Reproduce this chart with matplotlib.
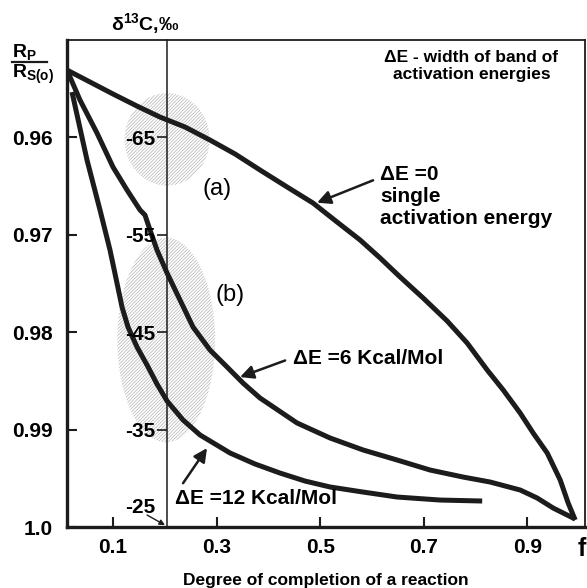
import numpy as np
import matplotlib
matplotlib.use("Agg")
import matplotlib.pyplot as plt
from matplotlib.patches import Ellipse
from matplotlib.lines import Line2D

plt.rcParams['font.family'] = ['Liberation Sans', 'DejaVu Sans']
plt.rcParams['font.weight'] = 'bold'
plt.rcParams['mathtext.fontset'] = 'custom'
plt.rcParams['mathtext.rm'] = 'Liberation Sans:bold'
plt.rcParams['mathtext.bf'] = 'Liberation Sans:bold'
plt.rcParams['hatch.linewidth'] = 0.5

f_de0 = [0.0110, 0.0555, 0.0999, 0.1463, 0.1907, 0.2390, 0.2873, 0.3357, 0.3840,
         0.4362, 0.4864, 0.5328, 0.5772, 0.6159, 0.6545, 0.6990, 0.7454, 0.7840,
         0.8227, 0.8536, 0.8864, 0.9115, 0.9386, 0.9637, 0.9791, 0.9927]
r_de0 = [0.95308, 0.95431, 0.95554, 0.95678, 0.95791, 0.95893, 0.96027, 0.96170, 0.96335,
         0.96509, 0.96674, 0.96869, 0.97053, 0.97238, 0.97433, 0.97649, 0.97885, 0.98111,
         0.98388, 0.98593, 0.98830, 0.99035, 0.99240, 0.99517, 0.99754, 0.99928]

f_de6 = [0.0110, 0.0361, 0.0690, 0.0999, 0.1270, 0.1521, 0.1617, 0.1714, 0.1849,
         0.2043, 0.2293, 0.2545, 0.2873, 0.3202, 0.3511, 0.3840, 0.4555, 0.5192,
         0.5830, 0.6487, 0.7125, 0.7763, 0.8284, 0.8864, 0.9192, 0.9501, 0.9772, 0.9927]
r_de6 = [0.95308, 0.95616, 0.95955, 0.96304, 0.96540, 0.96745, 0.96797, 0.96951, 0.97156,
         0.97392, 0.97669, 0.97947, 0.98183, 0.98357, 0.98522, 0.98676, 0.98932, 0.99086,
         0.99209, 0.99312, 0.99415, 0.99487, 0.99538, 0.99620, 0.99702, 0.99805, 0.99877, 0.99918]

f_de12 = [0.0207, 0.0497, 0.0748, 0.0941, 0.1076, 0.1173, 0.1289, 0.1463, 0.1657,
          0.1849, 0.2043, 0.2352, 0.2680, 0.3260, 0.3743, 0.4226, 0.4709, 0.5192,
          0.5830, 0.6487, 0.7318, 0.8130]
r_de12 = [0.95534, 0.96232, 0.96745, 0.97156, 0.97495, 0.97741, 0.97947, 0.98152, 0.98337,
          0.98532, 0.98706, 0.98901, 0.99055, 0.99240, 0.99353, 0.99446, 0.99528, 0.99589,
          0.99641, 0.99692, 0.99723, 0.99733]

x_ticks = [0.1, 0.3, 0.5, 0.7, 0.9]
y_ticks = [0.96, 0.97, 0.98, 0.99, 1.0]
y_ticklabels = ['0.96', '0.97', '0.98', '0.99', '1.0']
d13c_ticks = [0.96, 0.97, 0.98, 0.99]
d13c_labels = ['-65', '-55', '-45', '-35']
f_ref = 0.204  # position of the delta13C scale

fig = plt.figure(figsize=(5.87, 5.88), dpi=100)
ax = fig.add_axes([0.1141, 0.1037, 0.8825, 0.8282])
ax.set_xlim(0.011, 1.0116)
ax.set_ylim(1.0, 0.95)

ink = '#1c1c1c'

# hatched regions (a) and (b)
for (cx, cy, w, h) in [(0.2043, 0.9602, 0.164, 0.0095), (0.2027, 0.9808, 0.189, 0.0210)]:
    ax.add_patch(Ellipse((cx, cy), w, h, facecolor='none', edgecolor='#b4b4b4',
                         hatch='//////////', linewidth=0, zorder=1))

for fs, rs in [(f_de0, r_de0), (f_de6, r_de6), (f_de12, r_de12)]:
    ax.plot(fs, rs, color=ink, lw=3.6, solid_capstyle='butt',
            solid_joinstyle='round', zorder=3)

ax.set_xticks(x_ticks)
ax.set_xticklabels([str(v) for v in x_ticks])
ax.set_yticks(y_ticks)
ax.set_yticklabels(y_ticklabels)
ax.tick_params(direction='in', length=7, width=1.5, color=ink, labelsize=15, pad=10)
ax.tick_params(axis='x', pad=8)
for side in ['left', 'bottom']:
    ax.spines[side].set_linewidth(2.4)
for side in ['top', 'right']:
    ax.spines[side].set_linewidth(1.3)
for sp in ax.spines.values():
    sp.set_color(ink)

# delta13C scale on the vertical line
frac = (f_ref - 0.011) / (1.0116 - 0.011)
sec = ax.secondary_yaxis(frac)
sec.set_zorder(4)
sec.set_yticks(d13c_ticks)
sec.set_yticklabels(d13c_labels)
sec.tick_params(direction='out', length=7, width=1.2, color=ink, labelsize=15, pad=1)
sec.spines['left'].set_linewidth(1.1)
sec.spines['left'].set_color(ink)

ax.text(0.1523, 0.9980, '-25', ha='center', va='center', fontsize=15)
ax.annotate('', xy=(0.2003, 0.9998), xytext=(0.1657, 0.99877),
            arrowprops=dict(arrowstyle='-|>', lw=1.0, color=ink, mutation_scale=8,
                            shrinkA=0, shrinkB=0))

fig.text(326 / 587, 1 - 585 / 588, 'Degree of completion of a reaction',
         ha='center', va='baseline', fontsize=12.5)
ax.text(0.994, -0.045, 'f', transform=ax.transAxes, ha='center', va='center',
        fontsize=18)

arrow_kw = dict(arrowstyle='-|>', lw=1.8, color=ink, mutation_scale=20,
                shrinkA=0, shrinkB=0)
ax.annotate('', xy=(0.4941, 0.9667), xytext=(0.6023, 0.9644), arrowprops=arrow_kw)
ax.text(0.6159, 0.9628, 'ΔE =0\nsingle\nactivation energy', ha='left', va='top',
        fontsize=15, linespacing=1.2)

ax.annotate('', xy=(0.3453, 0.9846), xytext=(0.4324, 0.9829), arrowprops=arrow_kw)
ax.text(0.4477, 0.9827, 'ΔE =6 Kcal/Mol', ha='left', va='center', fontsize=15)

ax.annotate('', xy=(0.2815, 0.9919), xytext=(0.2352, 0.9955), arrowprops=arrow_kw)
ax.text(0.2197, 0.9971, 'ΔE =12 Kcal/Mol', ha='left', va='center', fontsize=15)

ax.text(0.3009, 0.9653, '(a)', ha='center', va='center', fontsize=17, fontweight='normal')
ax.text(0.3264, 0.9762, '(b)', ha='center', va='center', fontsize=17, fontweight='normal')

ax.text(0.792, 0.9510, 'ΔE - width of band of\nactivation energies', ha='center', va='top',
        fontsize=12.5, linespacing=1.2)

# axis titles above the frame
fig.text(145 / 587, 1 - 24 / 588, r'δ$^{13}$C,‰', ha='center', va='center', fontsize=14)
fig.text(12 / 587, 1 - 58 / 588, r'R$_{\mathrm{P}}$', ha='left', va='baseline', fontsize=14)
fig.text(12 / 587, 1 - 78 / 588, r'R$_{\mathrm{S(o)}}$', ha='left', va='baseline', fontsize=14)
fig.add_artist(Line2D([12 / 587, 47 / 587], [1 - 61.5 / 588, 1 - 61.5 / 588],
                      transform=fig.transFigure, color=ink, lw=1.6))

fig.savefig('out.png', dpi=100)
